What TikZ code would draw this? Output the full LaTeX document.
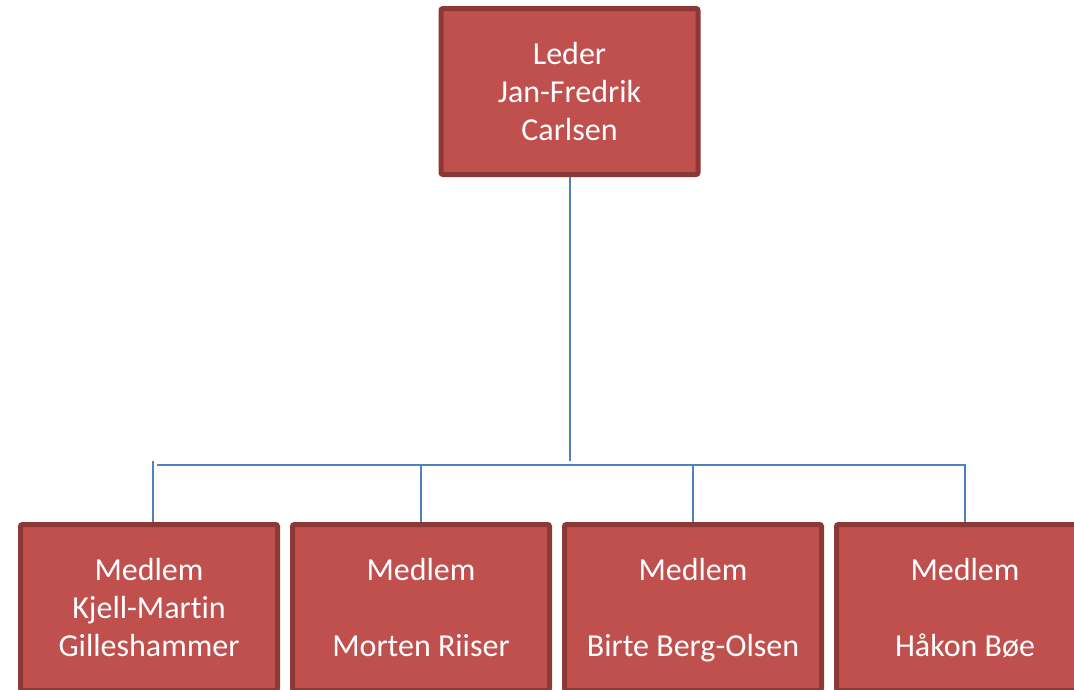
\documentclass[tikz,border=0pt]{standalone}
\usepackage{fontspec}
\setmainfont[Ligatures=NoCommon]{Carlito}
\definecolor{boxfill}{HTML}{C0504D}
\definecolor{boxline}{HTML}{8C3836}
\definecolor{conn}{HTML}{4F81BD}
\newcommand{\topstrut}{\rule{0pt}{24.45pt}}
\begin{document}
\begin{tikzpicture}[x=0.75pt,y=-0.75pt,
  orgbox/.style={rectangle, draw=boxline, fill=boxfill, line width=3.75pt, rounded corners=1.5pt,
    minimum width=192.75pt, minimum height=124.5pt, inner sep=0pt, align=center, text=white,
    font=\fontsize{24pt}{28.5pt}\selectfont},
  link/.style={draw=conn, line width=1.5pt}]
\useasboundingbox (0,0) rectangle (1074,689);
\clip (0,0) rectangle (1074,689);
\node[orgbox] (top) at (569.5,91.5) {\topstrut Leder\\Jan-Fredrik\\Carlsen\strut};
\node[orgbox] (b1) at (149,607.5) {\topstrut Medlem\\Kjell-Martin\\Gilleshammer\strut};
\node[orgbox] (b2) at (421,607.5) {\topstrut Medlem\\\mbox{}\\Morten Riiser\strut};
\node[orgbox] (b3) at (693,607.5) {\topstrut Medlem\\\mbox{}\\Birte Berg-Olsen\strut};
\node[orgbox] (b4) at (965,607.5) {\topstrut Medlem\\\mbox{}\\Håkon Bøe\strut};
\coordinate (tj) at (570,461);
\coordinate (hl) at (157,465);
\coordinate (hr) at (965,465);
\coordinate (d1) at (153,461);
\coordinate (d2) at (421,464);
\coordinate (d3) at (693,464);
\coordinate (d4) at (965,464);
\path[link] (top.south -| tj) -- (tj);
\path[link] (hl) -- (hr);
\path[link] (d1) -- (d1 |- b1.north);
\path[link] (d2) -- (d2 |- b2.north);
\path[link] (d3) -- (d3 |- b3.north);
\path[link] (d4) -- (d4 |- b4.north);
\end{tikzpicture}
\end{document}
